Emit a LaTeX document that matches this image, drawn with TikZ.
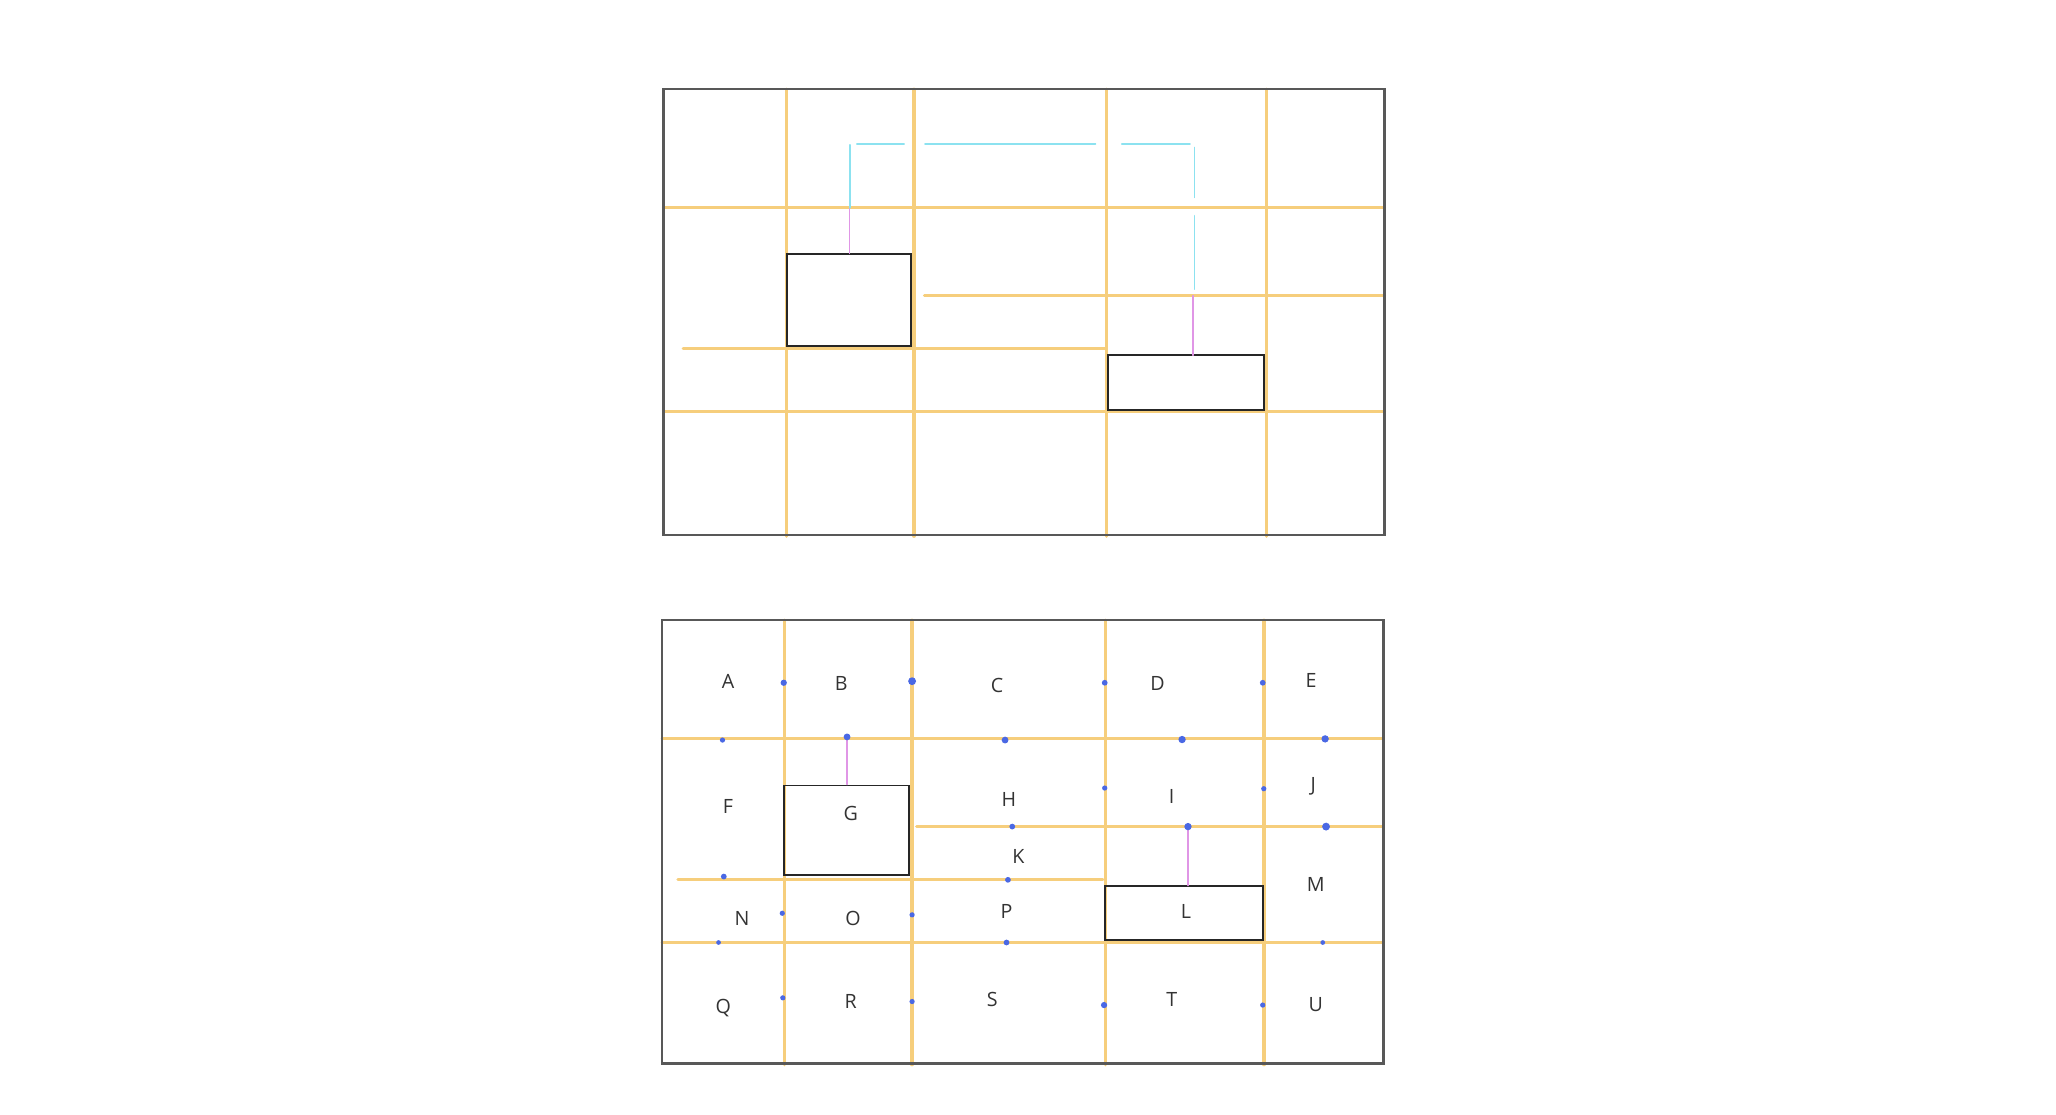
\documentclass[tikz,border=0pt]{standalone}
\usepackage{fontspec}
\setmainfont{Open Sans}
\definecolor{luoi}{RGB}{246,206,124}
\definecolor{chi}{RGB}{88,88,88}
\definecolor{duong}{RGB}{140,226,240}
\definecolor{noi}{RGB}{224,150,230}
\definecolor{cham}{RGB}{74,104,228}
\tikzset{
  gridln/.style={luoi, line width=2.4pt},
  frame/.style={chi, line width=1.9pt},
  hop/.style={draw=black!85, line width=1.4pt, rectangle, inner sep=0pt},
  link/.style={noi, line width=1.2pt},
  chu/.style={font=\fontsize{15}{16}\selectfont, text=black!80}
}

\begin{document}
\begin{tikzpicture}[x=1pt, y=-1pt, line cap=round]
  \useasboundingbox (0,0) rectangle (1568,850);

  % Lưới trên
  \draw[gridln] (600,68) -- (600,409) (697,68) -- (697,409) (844,68) -- (844,409) (966,68) -- (966,409);
  \draw[gridln] (506,158.5) -- (1056,158.5) (705,225.5) -- (1056,225.5) (521,265.5) -- (843,265.5) (507,314) -- (1056,314);
  \draw[frame] (506,68) rectangle (1056,408);

  % Hai hộp trên
  \node[hop, minimum width=95pt, minimum height=70pt] (g1) at (647.5,229) {};
  \node[hop, minimum width=119pt, minimum height=42pt] (l1) at (904.5,292) {};
  \coordinate (a1) at (648,158.5);
  \coordinate (b1) at (911,221);
  \draw[link] (a1) -- (a1 |- g1.north);
  \draw[link] (910,225.5) -- (910,271);
  % Đường nối (xanh)
  \draw[duong, line width=1.3pt, dash pattern=on 48pt off 6pt on 36pt off 16pt on 130pt off 20pt on 52pt off 6pt on 38pt off 14pt on 56pt]
    (a1) -- (648,110) -- (911,110) -- (b1);

  % Lưới dưới
  \draw[gridln] (598,473) -- (598,812) (695.5,473) -- (695.5,812) (843,473) -- (843,812) (964,473) -- (964,812);
  \draw[gridln] (505,563.5) -- (1055,563.5) (699,630.5) -- (1055,630.5) (517,670.5) -- (841,670.5) (505,719) -- (1055,719);
  \draw[frame] (505,473) rectangle (1055,811);

  % Hai hộp dưới
  \node[hop, minimum width=95pt, minimum height=68pt] (g2) at (645.5,633) {};
  \node[hop, minimum width=120pt, minimum height=41pt] (l2) at (903,696.5) {};
  \coordinate (a2) at (646,562);
  \coordinate (b2) at (906,630.5);
  \draw[link] (a2) -- (a2 |- g2.north);
  \draw[link] (b2) -- (b2 |- l2.north);

  % Các điểm
  \fill[cham] (597.7,520.7) circle (2.4pt) (695.6,519.5) circle (3pt) (842.5,520.7) circle (2.2pt) (963,520.7) circle (2.2pt);
  \fill[cham] (551,564.4) circle (2pt) (646,562) circle (2.6pt) (766.5,564.4) circle (2.6pt) (901.5,564) circle (2.8pt) (1010.6,563.5) circle (2.8pt);
  \fill[cham] (842.5,601) circle (2pt) (963.8,601.5) circle (2pt);
  \fill[cham] (772,630.4) circle (2.2pt) (906,630.4) circle (2.8pt) (1011.3,630.4) circle (3pt);
  \fill[cham] (552,668.5) circle (2.2pt) (768.7,671) circle (2.2pt);
  \fill[cham] (596.6,696.5) circle (2pt) (695.6,697.7) circle (2pt);
  \fill[cham] (548,718.8) circle (1.8pt) (767.6,718.8) circle (2.2pt) (1008.8,718.8) circle (1.8pt);
  \fill[cham] (597,761) circle (2pt) (695.6,763.8) circle (2pt) (842,766.5) circle (2.4pt) (963,766.5) circle (2pt);

  % Chữ
  \node[chu] (A) at (555.2,520) {A};
  \node[chu] (B) at (641.6,521) {B};
  \node[chu] (C) at (760.4,522.5) {C};
  \node[chu] (D) at (882.8,521) {D};
  \node[chu] (E) at (999.8,518.7) {E};
  \node[chu] (F) at (555.2,615.2) {F};
  \node[chu] (G) at (648.8,620.3) {G};
  \node[chu] (H) at (769.4,610) {H};
  \node[chu] (I) at (893.6,607.6) {I};
  \node[chu] (J) at (1001.6,600) {J};
  \node[chu] (K) at (776.6,653.3) {K};
  \node[chu] (L) at (904.4,695) {L};
  \node[chu] (M) at (1003.4,674.9) {M};
  \node[chu] (N) at (566,700.3) {N};
  \node[chu] (O) at (650.6,700.3) {O};
  \node[chu] (P) at (767.6,695) {P};
  \node[chu] (Q) at (551.6,768.9) {Q};
  \node[chu] (R) at (648.8,763.8) {R};
  \node[chu] (S) at (756.8,762.5) {S};
  \node[chu] (T) at (893.6,762.5) {T};
  \node[chu] (U) at (1003.4,766) {U};
\end{tikzpicture}
\end{document}
